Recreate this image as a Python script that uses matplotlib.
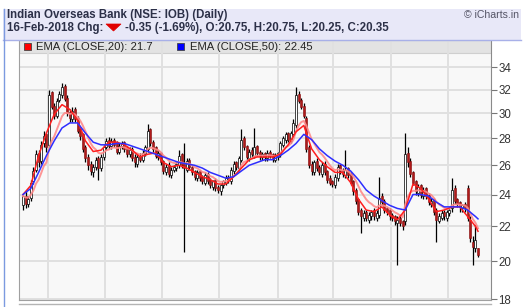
import numpy as np
import pandas as pd
import matplotlib
matplotlib.use("Agg")
import matplotlib.pyplot as plt
from matplotlib.patches import Rectangle, Polygon
from matplotlib.lines import Line2D

# ---------------- data ----------------
title = "Indian Overseas Bank (NSE: IOB) (Daily)"
date_label = "16-Feb-2018 Chg:"
change_label = "-0.35 (-1.69%), O:20.75, H:20.75, L:20.25, C:20.35"
ema20_label = "EMA (CLOSE,20): 21.7"
ema50_label = "EMA (CLOSE,50): 22.45"
y_ticks = [18, 20, 22, 24, 26, 28, 30, 32, 34]

opens = [23.3, 23.9, 23.4, 23.8, 24.9, 25.7, 26.9, 26.3, 27.6, 28.3,
         27.5, 31.8, 30.6, 29.8, 31.1, 31.5, 32.3, 31.3, 30.1, 29.5,
         30.3, 29.6, 28.7, 28.3, 27.3, 26.6, 26.1, 25.5, 25.9, 26.5,
         25.8, 26.6, 27.3, 27.9, 27.4, 27.9, 27.6, 27.0, 27.4, 27.7,
         27.3, 26.8, 27.2, 26.6, 26.1, 26.7, 26.4, 26.9, 27.2, 28.7,
         27.7, 27.3, 26.6, 26.9, 26.3, 25.5, 26.0, 25.3, 25.7, 25.8,
         26.0, 26.8, 26.1, 25.7, 26.4, 25.9, 25.6, 25.1, 25.6, 25.2,
         24.8, 25.4, 25.0, 24.5, 25.0, 24.5, 24.2, 24.6, 24.8, 25.2,
         24.9, 25.6, 26.2, 25.8, 26.4, 28.0, 27.4, 26.5, 27.1, 26.7,
         27.4, 27.0, 26.6, 26.9, 26.5, 27.0, 26.8, 26.4, 26.6, 26.8,
         27.5, 27.9, 28.4, 27.8, 28.3, 29.0, 31.6, 31.1, 30.6, 29.6,
         27.3, 26.1, 25.5, 26.3, 25.9, 25.4, 26.1, 25.6, 25.1, 24.9,
         24.6, 25.1, 26.0, 25.7, 25.3, 25.8, 25.4, 24.9, 24.3, 23.7,
         23.0, 22.5, 22.9, 22.4, 22.6, 23.0, 22.5, 22.7, 23.9, 23.6,
         23.1, 23.0, 22.7, 22.6, 22.2, 22.5, 22.3, 22.3, 26.9, 26.3,
         25.5, 24.9, 24.1, 24.6, 23.9, 24.4, 24.0, 23.4, 23.7, 23.0,
         22.3, 22.5, 22.9, 22.5, 22.8, 23.1, 24.4, 23.7, 23.5, 23.1,
         23.4, 24.4, 22.4, 21.1, 20.7, 20.75]
highs = [23.9, 24.2, 23.9, 25.0, 25.9, 27.1, 27.1, 27.8, 28.6, 28.4,
         32.0, 31.9, 30.8, 31.3, 31.9, 32.6, 32.5, 31.5, 30.3, 30.5,
         30.5, 29.8, 28.9, 28.4, 27.5, 26.8, 26.3, 26.1, 26.6, 26.7,
         26.8, 27.5, 28.0, 28.1, 28.0, 28.0, 27.8, 27.6, 27.8, 27.8,
         27.4, 27.3, 27.3, 26.8, 26.8, 26.9, 27.1, 27.5, 29.1, 28.8,
         27.9, 27.4, 27.1, 27.0, 26.4, 26.1, 26.2, 25.9, 26.0, 26.3,
         27.1, 26.9, 27.6, 26.5, 26.5, 26.0, 25.7, 25.7, 25.7, 25.3,
         25.5, 25.5, 25.1, 25.0, 25.1, 24.6, 24.7, 25.0, 25.3, 25.3,
         25.9, 26.3, 26.3, 26.7, 28.7, 28.2, 27.5, 27.2, 27.3, 28.8,
         27.5, 27.1, 27.0, 27.0, 27.1, 27.1, 26.9, 26.9, 27.0, 27.8,
         28.2, 28.5, 28.5, 28.6, 29.5, 32.2, 31.9, 31.3, 30.8, 29.8,
         27.5, 26.3, 26.4, 26.5, 26.0, 26.2, 26.3, 25.7, 25.3, 25.0,
         25.4, 26.1, 26.1, 25.8, 27.1, 25.9, 25.5, 25.0, 24.4, 23.8,
         23.1, 23.0, 23.0, 22.9, 23.0, 23.1, 23.0, 25.2, 24.1, 23.7,
         23.2, 23.1, 22.8, 22.7, 22.6, 22.6, 22.4, 28.4, 27.3, 26.5,
         25.6, 25.0, 24.7, 24.7, 24.5, 24.5, 24.1, 23.8, 23.8, 23.1,
         22.8, 23.0, 23.0, 23.0, 23.1, 25.1, 24.6, 23.8, 23.6, 23.4,
         23.5, 24.6, 22.6, 21.4, 22.1, 20.75]
lows = [23.0, 23.1, 23.2, 23.6, 24.7, 25.5, 25.9, 26.1, 27.3, 27.0,
        27.3, 30.3, 29.5, 29.6, 30.9, 31.3, 31.0, 29.8, 29.3, 29.3,
        29.3, 28.4, 27.9, 27.0, 26.2, 25.7, 25.3, 25.2, 25.7, 25.0,
        25.6, 26.4, 27.1, 27.2, 27.2, 27.3, 26.8, 26.8, 27.2, 27.0,
        26.6, 26.6, 26.3, 25.9, 25.9, 26.2, 26.2, 26.7, 27.0, 27.4,
        27.0, 26.5, 26.4, 26.0, 25.4, 25.3, 25.2, 25.1, 25.5, 25.6,
        25.8, 25.8, 20.5, 25.5, 25.7, 25.3, 25.0, 24.9, 24.9, 24.7,
        24.6, 24.7, 24.4, 24.3, 24.2, 24.1, 24.0, 24.4, 24.6, 24.8,
        24.7, 25.4, 25.7, 25.6, 26.2, 27.1, 26.4, 26.3, 26.5, 26.5,
        26.7, 26.4, 26.4, 26.3, 26.3, 26.5, 26.2, 26.2, 26.4, 26.6,
        27.3, 27.6, 27.7, 27.6, 28.1, 28.8, 30.8, 30.3, 29.6, 27.0,
        25.8, 25.3, 25.3, 25.6, 25.3, 25.2, 25.3, 24.8, 24.6, 24.5,
        24.4, 24.9, 25.4, 25.2, 25.1, 25.1, 24.6, 24.0, 23.4, 22.7,
        21.6, 22.3, 22.3, 22.2, 22.4, 22.4, 22.3, 22.5, 23.3, 22.8,
        22.7, 22.4, 22.3, 22.1, 19.8, 22.0, 21.8, 22.1, 25.9, 25.2,
        24.6, 24.0, 23.9, 23.8, 23.7, 23.7, 23.3, 23.2, 22.7, 21.1,
        22.2, 22.4, 22.4, 22.3, 22.6, 22.9, 23.4, 23.2, 22.9, 22.9,
        22.9, 22.3, 21.1, 19.8, 20.5, 20.25]
closes = [23.9, 23.4, 23.7, 24.8, 25.6, 26.8, 26.2, 27.5, 28.2, 27.3,
          31.5, 30.5, 29.8, 31.0, 31.6, 32.2, 31.2, 30.0, 29.6, 30.2,
          29.5, 28.6, 28.2, 27.2, 26.5, 26.0, 25.6, 25.9, 26.4, 25.8,
          26.6, 27.3, 27.8, 27.4, 27.8, 27.5, 27.0, 27.4, 27.6, 27.2,
          26.8, 27.1, 26.5, 26.2, 26.6, 26.4, 26.9, 27.3, 28.6, 27.6,
          27.2, 26.7, 26.9, 26.2, 25.6, 25.9, 25.4, 25.7, 25.9, 26.1,
          26.7, 26.0, 25.8, 26.3, 25.9, 25.5, 25.2, 25.5, 25.1, 24.9,
          25.3, 24.9, 24.6, 24.9, 24.4, 24.3, 24.6, 24.9, 25.1, 25.0,
          25.7, 26.1, 25.9, 26.5, 27.9, 27.3, 26.6, 27.0, 26.8, 27.3,
          26.9, 26.7, 26.8, 26.6, 26.9, 26.7, 26.5, 26.7, 26.9, 27.6,
          28.0, 28.3, 27.9, 28.4, 29.2, 31.5, 31.0, 30.5, 29.8, 27.2,
          26.0, 25.6, 26.2, 25.8, 25.5, 26.0, 25.5, 25.0, 24.8, 24.7,
          25.2, 25.9, 25.6, 25.4, 25.7, 25.3, 24.8, 24.2, 23.6, 22.9,
          22.6, 22.8, 22.5, 22.7, 22.9, 22.6, 22.8, 23.8, 23.5, 23.0,
          22.9, 22.6, 22.5, 22.3, 22.4, 22.2, 22.0, 26.8, 26.2, 25.4,
          24.8, 24.2, 24.5, 24.0, 24.3, 23.9, 23.5, 23.6, 22.9, 22.4,
          22.6, 22.8, 22.6, 22.9, 23.0, 24.3, 23.6, 23.4, 23.2, 23.3,
          23.1, 22.5, 21.3, 20.8, 21.2, 20.35]

# EMA lines as drawn in the reference (sampled every 3rd bar, plus the last bar)
ema_idx = list(range(0, 175, 3)) + [175]
ema20 = [24.0, 24.6, 26.7, 28.4, 29.9, 30.7, 30.3, 29.4, 27.8, 27.0,
         27.1, 27.7, 27.7, 27.5, 27.1, 26.6, 26.8, 26.9, 26.2, 25.9,
         26.0, 25.8, 25.5, 25.2, 25.0, 24.7, 24.7, 25.2, 25.8, 26.4,
         26.6, 26.6, 26.6, 26.8, 27.5, 28.5, 29.0, 27.2, 26.4, 25.9,
         25.5, 25.5, 24.8, 23.7, 23.0, 22.9, 23.2, 22.7, 22.4, 23.0,
         24.7, 24.4, 23.7, 22.9, 23.0, 23.2, 23.2, 22.6, 22.0, 21.7]
ema50 = [24.0, 24.4, 25.5, 26.7, 27.8, 28.8, 29.2, 29.2, 28.4, 27.7,
         27.5, 27.5, 27.6, 27.6, 27.4, 27.2, 27.0, 26.8, 26.6, 26.4,
         26.2, 26.1, 26.0, 25.8, 25.5, 25.3, 25.1, 25.2, 25.6, 26.0,
         26.2, 26.4, 26.4, 26.7, 27.1, 27.6, 28.3, 27.9, 27.2, 26.7,
         26.3, 26.0, 25.6, 25.0, 24.3, 23.9, 23.6, 23.3, 23.1, 23.0,
         24.0, 24.0, 23.9, 23.5, 23.2, 23.2, 23.2, 23.0, 22.6, 22.45]

# ---------------- figure ----------------
W, H = 529, 307
fig = plt.figure(figsize=(W / 100, H / 100), dpi=100)
fig.patch.set_facecolor('white')
FONT = 'Liberation Sans'


def fx(px):
    return px / W


def fy(py):
    return 1 - py / H


# header panel
fig.patches.append(Rectangle((fx(3), fy(40)), fx(521) - fx(3), fy(9) - fy(40),
                             transform=fig.transFigure, facecolor='#E8E8F8',
                             edgecolor='none', zorder=0))
fig.lines.append(Line2D([fx(3), fx(521)], [fy(40), fy(40)], transform=fig.transFigure,
                        color='#A8B0E8', lw=1.0))
fig.lines.append(Line2D([fx(3.5), fx(3.5)], [fy(9), 0], transform=fig.transFigure,
                        color='#7C9AE0', lw=1.0))
fig.lines.append(Line2D([fx(19), fx(491)], [fy(303.5), fy(303.5)], transform=fig.transFigure,
                        color='#B4B4B4', lw=1.0))

HDR = 8.3
fig.text(fx(7), fy(15), title, fontsize=HDR, fontweight='bold', family=FONT,
         color='#2C3048', va='center', ha='left')
fig.text(fx(7), fy(27.5), date_label, fontsize=HDR, fontweight='bold', family=FONT,
         color='#2C3048', va='center', ha='left')
fig.patches.append(Polygon([(fx(106), fy(24)), (fx(121), fy(24)), (fx(113.5), fy(31))],
                           closed=True, transform=fig.transFigure,
                           facecolor='#E00000', edgecolor='#E00000', lw=0.5))
fig.text(fx(125), fy(27.5), change_label, fontsize=HDR, fontweight='bold', family=FONT,
         color='#2C3048', va='center', ha='left')
fig.text(fx(519), fy(14.5), '\u00a9 iCharts.in', fontsize=7.6, family=FONT,
         color='#555566', va='center', ha='right')

# ---------------- price axes ----------------
ax = fig.add_axes([fx(19), fy(300), fx(491) - fx(19), fy(40) - fy(300)])
ax.set_facecolor('#F8F8F8')
ax.set_yscale('log')
ax.set_ylim(17.975, 36.65)
ax.set_xlim(-1.54, 180.0)

# legend strip background
ax.add_patch(Rectangle((0, 1 - 13 / 260), 1, 13 / 260, transform=ax.transAxes,
                       facecolor='#E3E3E3', edgecolor='#CFCFCF', lw=0.8, zorder=0.5))

# grid
for v in y_ticks:
    ax.axhline(v, color='#E0E0E0', lw=1.4, zorder=0.8)
for gx in [9.5, 31.65, 53.6, 75.5, 98.0, 119.2, 141.6, 163.6]:
    ax.axvline(gx, color='#E0E0E0', lw=1.4, zorder=0.8)

# candles
xs = np.arange(len(closes))
o = np.array(opens)
c = np.array(closes)
hi = np.array(highs)
lo = np.array(lows)
ax.vlines(xs, lo, hi, color='black', lw=0.9, zorder=2)
down = c < o
up = ~down
ax.bar(xs[down], (o - c)[down], bottom=c[down], width=0.78,
       color='#B01A1A', edgecolor='#8A0E0E', lw=0.4, zorder=3)
ax.bar(xs[up], (c - o)[up], bottom=o[up], width=0.78,
       color='white', edgecolor='black', lw=0.5, zorder=3)

# moving averages
fast = pd.Series(closes).ewm(span=10, adjust=False).mean()
ax.plot(xs, fast, color='#FF8A8A', lw=1.4, alpha=0.9, zorder=4)
ax.plot(ema_idx, ema20, color='#FF1E1E', lw=1.1, zorder=5)
ax.plot(ema_idx, ema50, color='#2E2EFF', lw=1.1, zorder=5)

# axes styling
ax.spines['top'].set_visible(False)
ax.spines['left'].set_color('#A0A0A0')
ax.spines['bottom'].set_color('#A0A0A0')
ax.spines['right'].set_color('#8A8A8A')
ax.yaxis.tick_right()
ax.yaxis.set_minor_locator(matplotlib.ticker.NullLocator())
ax.set_yticks(y_ticks)
ax.set_yticklabels([str(t) for t in y_ticks], fontsize=8.3, family=FONT, color='#333333')
ax.tick_params(axis='y', which='major', length=4, width=0.8, color='#777777', pad=1.5)
ax.set_xticks([])

# legend
LEG = 8.1
fig.patches.append(Rectangle((fx(24), fy(50)), fx(7), fy(0) - fy(7), transform=fig.transFigure,
                             facecolor='#FF0000', edgecolor='#444444', lw=0.6, zorder=6))
fig.text(fx(36), fy(46.8), ema20_label, fontsize=LEG, family=FONT, color='#222222',
         va='center', ha='left')
fig.patches.append(Rectangle((fx(177), fy(50)), fx(7), fy(0) - fy(7), transform=fig.transFigure,
                             facecolor='#0000FF', edgecolor='#444444', lw=0.6, zorder=6))
fig.text(fx(190), fy(46.8), ema50_label, fontsize=LEG, family=FONT, color='#222222',
         va='center', ha='left')

fig.savefig('out.png', dpi=100)
